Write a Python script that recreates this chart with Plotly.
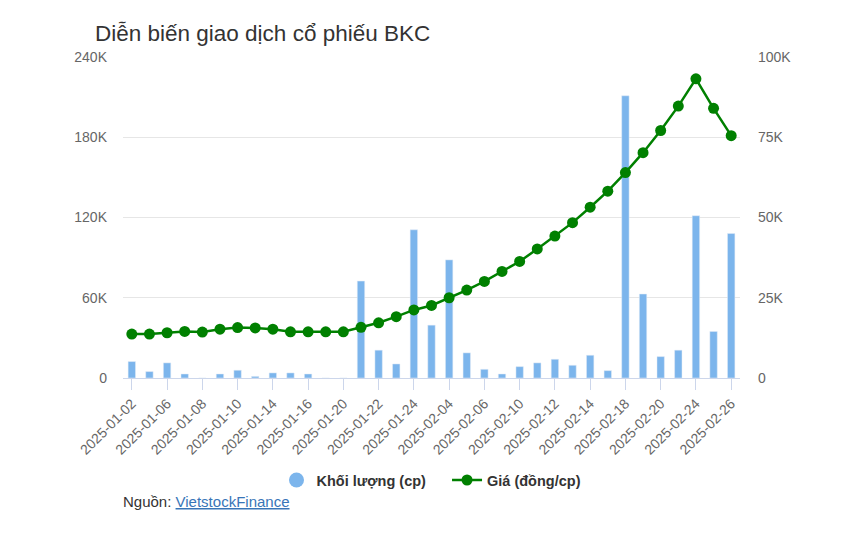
import plotly.graph_objects as go

dates = ["2025-01-02","2025-01-03","2025-01-06","2025-01-07","2025-01-08","2025-01-09","2025-01-10",
         "2025-01-13","2025-01-14","2025-01-15","2025-01-16","2025-01-17","2025-01-20","2025-01-21",
         "2025-01-22","2025-01-23","2025-01-24","2025-02-03","2025-02-04","2025-02-05","2025-02-06",
         "2025-02-07","2025-02-10","2025-02-11","2025-02-12","2025-02-13","2025-02-14","2025-02-17",
         "2025-02-18","2025-02-19","2025-02-20","2025-02-21","2025-02-24","2025-02-25","2025-02-26"]

volume = [12300, 4800, 11300, 3000, 0, 3000, 5800, 1200, 3800, 3800, 3000, 0, 0, 72500,
          20800, 10500, 110800, 39500, 88300, 18800, 6500, 3000, 8500, 11300, 14000, 9500,
          17000, 5500, 211000, 62800, 16000, 20800, 121300, 34800, 108000]

price = [13700, 13700, 14100, 14500, 14300, 15200, 15700, 15600, 15200, 14400, 14400, 14400,
         14400, 15800, 17200, 19100, 21200, 22600, 25000, 27400, 30100, 33200, 36300, 40200,
         44200, 48400, 53200, 58200, 64000, 70200, 77100, 84700, 93200, 84000, 75500]

left_ticks = [0, 60000, 120000, 180000, 240000]
left_labels = ["0", "60K", "120K", "180K", "240K"]
right_ticks = [0, 25000, 50000, 75000, 100000]
right_labels = ["0", "25K", "50K", "75K", "100K"]

BAR = "#7cb5ec"
LINE = "#008000"
FONT = "Liberation Sans, Arial, sans-serif"

fig = go.Figure()
fig.add_trace(go.Bar(x=dates, y=volume, name="Khối lượng (cp)", marker_color=BAR,
                     width=0.42, showlegend=False, yaxis="y"))
fig.add_trace(go.Scatter(x=[None], y=[None], mode="markers",
                         name="<b>Khối lượng (cp)</b>\u00a0\u00a0\u00a0\u00a0",
                         marker=dict(color=BAR, size=15, symbol="circle"), showlegend=True))
fig.add_trace(go.Scatter(x=dates, y=price, name="<b>Giá (đồng/cp)</b>", mode="lines+markers",
                         line=dict(color=LINE, width=2.5), marker=dict(color=LINE, size=11),
                         yaxis="y2"))

fig.update_layout(
    width=867, height=542,
    margin=dict(l=123, r=127, t=57, b=164),
    paper_bgcolor="white", plot_bgcolor="white",
    font=dict(family=FONT, color="#666666", size=14),
    title=dict(text="Diễn biến giao dịch cổ phiếu BKC", x=95/867, xanchor="left",
               y=1 - 33/542, yanchor="middle", font=dict(size=22.5, color="#333333", family=FONT)),
    bargap=0.58,
    xaxis=dict(type="category", range=[-0.5, 34.5], tickvals=dates[::2], tickangle=-45,
               showline=True, linecolor="#ccd6eb", ticks="outside", ticklen=11,
               tickcolor="#ccd6eb", showgrid=False, tickfont=dict(size=14, color="#666666")),
    yaxis=dict(range=[0, 240000], tickvals=left_ticks, ticktext=left_labels, showgrid=True,
               gridcolor="#e6e6e6", zeroline=False, showline=False,
               tickfont=dict(size=14, color="#666666"), ticklabelstandoff=15),
    yaxis2=dict(range=[0, 100000], tickvals=right_ticks, ticktext=right_labels, overlaying="y",
                side="right", showgrid=False, zeroline=False, showline=False,
                tickfont=dict(size=14, color="#666666"), ticklabelstandoff=17),
    legend=dict(orientation="h", x=0.5, xanchor="center", y=-0.318, yanchor="middle",
                font=dict(size=14.5, color="#333333", family=FONT), traceorder="normal",
                itemwidth=30),
    annotations=[dict(text='Nguồn: <span style="color:#3875b8"><u>VietstockFinance</u></span>',
                      xref="paper", yref="paper", x=-2/617, y=-(501-378)/321,
                      xanchor="left", yanchor="middle", showarrow=False,
                      font=dict(size=15, color="#333333", family=FONT))],
)

fig.write_html("out.html")
